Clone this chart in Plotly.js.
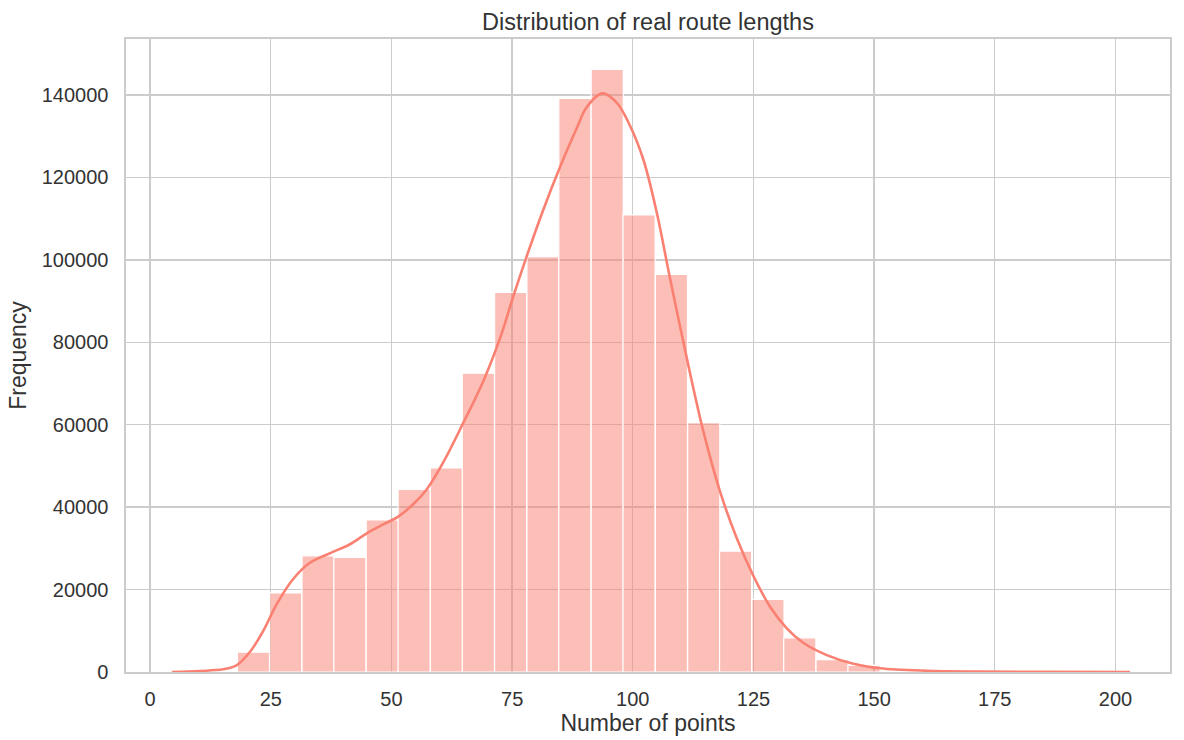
<!DOCTYPE html>
<html>
<head>
<meta charset="utf-8">
<script src="https://cdn.plot.ly/plotly-3.0.1.min.js"></script>
<style>
  html, body { margin: 0; padding: 0; background: #ffffff; }
  #chart { width: 1184px; height: 740px; }
</style>
</head>
<body>
<div id="chart"></div>
<script>
// Histogram bins (bin centres, number of points) and their counts
const binCenters = [21.4, 28.1, 34.8, 41.4, 48.1, 54.7, 61.4, 68.0, 74.7, 81.4,
                    88.0, 94.7, 101.3, 108.0, 114.7, 121.3, 128.0, 134.6, 141.3, 147.9];
const binWidth = 6.66;
const counts = [4800, 19200, 28200, 27800, 36900, 44300, 49500, 72500, 92100, 100800,
                139200, 146200, 110900, 96500, 60500, 29300, 17600, 8300, 3000, 1600];

// KDE curve (scaled to counts)
const kdeX = [4.5, 10.3, 15.1, 17.9, 20.7, 23.4, 26.2, 29.6, 33.1, 37.2, 41.4, 44.8, 48.3,
              51.4, 54.5, 57.3, 60.7, 64.9, 69.0, 72.5, 75.2, 78.0, 81.5, 84.9, 88.4, 90.4,
              93.7, 96.7, 99.4, 102.2, 105.0, 107.7, 111.2, 114.6, 118.1, 121.5, 125.0,
              128.4, 131.9, 135.3, 140.2, 145.7, 151.2, 160.9, 171.3, 185.0, 203.0];
const kdeY = [0, 250, 650, 1600, 4900, 9900, 16400, 22500, 26500, 28800, 31000, 33600, 35800,
              37700, 40700, 44300, 50800, 60500, 70500, 81000, 91000, 100800, 112300, 122500,
              132000, 137000, 140400, 138100, 132600, 124300, 111300, 95600, 76100, 58500,
              43700, 32600, 23300, 15900, 10600, 7100, 4100, 2000, 900, 300, 100, 20, 0];

const xTicks = [0, 25, 50, 75, 100, 125, 150, 175, 200];
const yTicks = [0, 20000, 40000, 60000, 80000, 100000, 120000, 140000];

const salmon = '#FA8072';
const gridColor = '#cccccc';
const textColor = '#333333';
const fontFam = '"Liberation Sans", Arial, sans-serif';

const traces = [
  {
    type: 'bar',
    x: binCenters,
    y: counts,
    width: binWidth,
    marker: { color: 'rgba(250,128,114,0.5)', line: { color: '#ffffff', width: 1.2 } },
    hoverinfo: 'x+y',
    showlegend: false
  },
  {
    type: 'scatter',
    mode: 'lines',
    x: kdeX,
    y: kdeY,
    line: { color: salmon, width: 2.6, shape: 'spline', smoothing: 1 },
    showlegend: false
  }
];

const layout = {
  width: 1184,
  height: 740,
  margin: { l: 126, r: 14, t: 39, b: 68 },
  paper_bgcolor: '#ffffff',
  plot_bgcolor: '#ffffff',
  bargap: 0,
  font: { family: fontFam, color: textColor, size: 20 },
  title: {
    text: 'Distribution of real route lengths',
    font: { family: fontFam, size: 23.5, color: textColor },
    x: 0.5, xanchor: 'center', xref: 'paper',
    y: 1, yanchor: 'bottom', yref: 'paper', pad: { b: 9 }
  },
  xaxis: {
    range: [-5, 211.3],
    tickvals: xTicks,
    ticktext: xTicks.map(String),
    showgrid: true, gridcolor: gridColor, gridwidth: 1.4,
    zeroline: false,
    showline: true, linecolor: gridColor, linewidth: 1.6, mirror: true,
    ticks: 'outside', ticklen: 8, tickcolor: 'rgba(0,0,0,0)',
    tickfont: { size: 20, color: textColor },
    title: { text: 'Number of points', font: { size: 23, color: textColor }, standoff: 6 }
  },
  yaxis: {
    range: [0, 153600],
    tickvals: yTicks,
    ticktext: yTicks.map(String),
    showgrid: true, gridcolor: gridColor, gridwidth: 1.4,
    zeroline: false,
    showline: true, linecolor: gridColor, linewidth: 1.6, mirror: true,
    ticks: 'outside', ticklen: 12, tickcolor: 'rgba(0,0,0,0)',
    tickfont: { size: 20, color: textColor },
    title: { text: 'Frequency', font: { size: 23, color: textColor }, standoff: 8 }
  }
};

Plotly.newPlot('chart', traces, layout, { displayModeBar: false, staticPlot: true });
</script>
</body>
</html>
